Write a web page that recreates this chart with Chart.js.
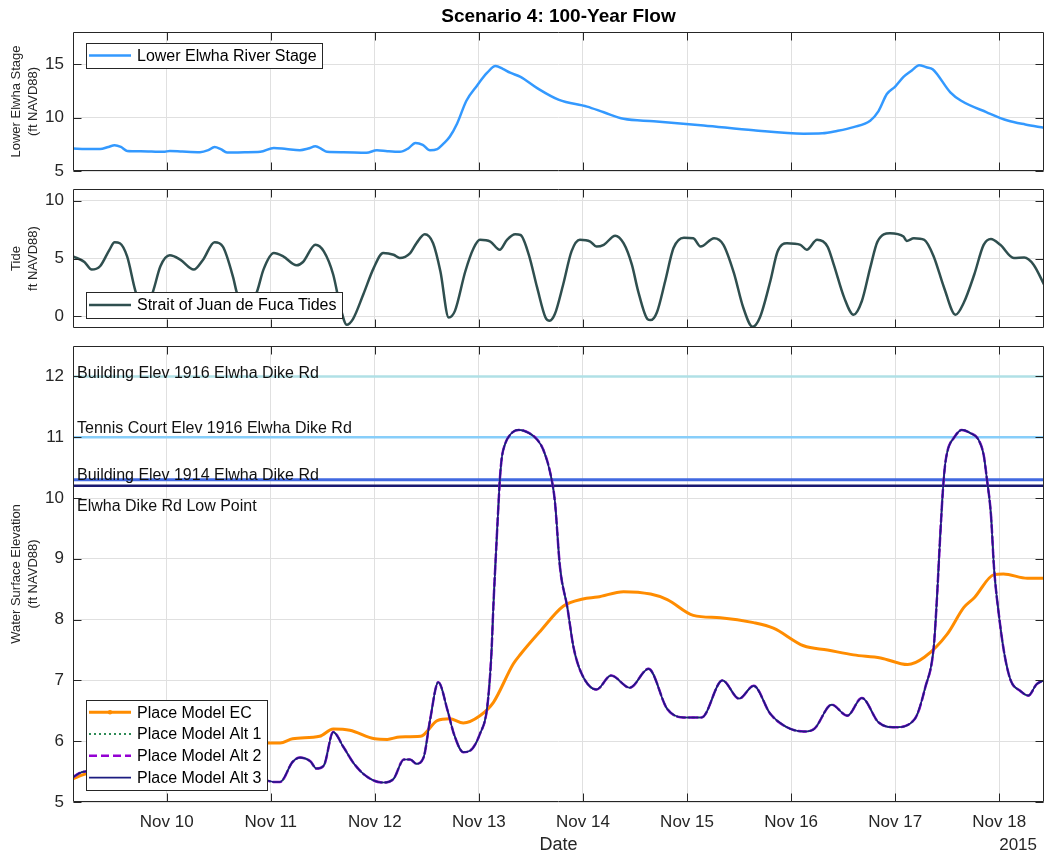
<!DOCTYPE html>
<html><head><meta charset="utf-8">
<script src="https://cdn.jsdelivr.net/npm/chart.js@4.4.1/dist/chart.umd.min.js"></script>
<style>
html,body{margin:0;padding:0;background:#fff;}
#wrap{position:relative;width:1044px;height:856px;overflow:hidden;background:#fff;}
canvas{position:absolute;left:0;}
</style></head><body>
<div id="wrap">
<canvas id="cA" width="1044" height="184" style="top:0px"></canvas>
<canvas id="cB" width="1044" height="148" style="top:184px"></canvas>
<canvas id="cC" width="1044" height="524" style="top:332px"></canvas>
</div>
<script>
// ---------- axes / labels ----------
const chartTitle = 'Scenario 4: 100-Year Flow';
const xLimits = [9.10, 18.43];               // day of November 2015
const dayTicks = [10, 11, 12, 13, 14, 15, 16, 17, 18];
const dayLabels = ['Nov 10', 'Nov 11', 'Nov 12', 'Nov 13', 'Nov 14', 'Nov 15', 'Nov 16', 'Nov 17', 'Nov 18'];
const yearText = '2015';
const xAxisTitle = 'Date';

const stageLimits = [5, 18];
const stageTicks = [5, 10, 15];
const stageAxisTitle = ['Lower Elwha Stage', '(ft NAVD88)'];

const tideLimits = [-1, 11];
const tideTicks = [0, 5, 10];
const tideAxisTitle = ['Tide', 'ft NAVD88)'];

const wseLimits = [5, 12.5];
const wseTicks = [5, 6, 7, 8, 9, 10, 11, 12];
const wseAxisTitle = ['Water Surface Elevation', '(ft NAVD88)'];

// ---------- series ----------
const stageDays = [9.10, 9.22, 9.36, 9.44, 9.50, 9.56, 9.62, 9.75, 9.97, 10.03, 10.15, 10.32, 10.40, 10.46, 10.52, 10.58, 10.75, 10.90, 11.03, 11.15, 11.28, 11.36, 11.43, 11.49, 11.54, 11.70, 11.92, 12.02, 12.12, 12.24, 12.32, 12.39, 12.46, 12.53, 12.60, 12.66, 12.72, 12.79, 12.88, 12.98, 13.08, 13.16, 13.23, 13.30, 13.40, 13.56, 13.77, 14.04, 14.20, 14.39, 14.68, 15.16, 15.64, 16.12, 16.30, 16.44, 16.60, 16.76, 16.84, 16.92, 17.00, 17.08, 17.16, 17.23, 17.30, 17.36, 17.53, 17.63, 17.88, 18.08, 18.25, 18.43];
const stageVals = [7.10, 7.05, 7.05, 7.25, 7.41, 7.25, 6.88, 6.85, 6.79, 6.88, 6.82, 6.76, 6.95, 7.25, 7.05, 6.73, 6.75, 6.79, 7.16, 7.05, 6.94, 7.10, 7.31, 7.05, 6.79, 6.75, 6.70, 6.94, 6.85, 6.79, 7.10, 7.62, 7.45, 6.94, 7.05, 7.56, 8.20, 9.42, 11.57, 12.96, 14.19, 14.81, 14.55, 14.19, 13.80, 12.75, 11.65, 11.02, 10.49, 9.88, 9.66, 9.26, 8.80, 8.49, 8.52, 8.74, 9.10, 9.70, 10.60, 12.20, 12.90, 13.80, 14.40, 14.90, 14.70, 14.52, 12.36, 11.59, 10.49, 9.72, 9.35, 9.05];

const tideDays = [9.10, 9.21, 9.28, 9.36, 9.45, 9.50, 9.55, 9.62, 9.70, 9.78, 9.87, 9.94, 10.03, 10.13, 10.26, 10.35, 10.46, 10.54, 10.64, 10.67, 10.76, 10.87, 10.93, 11.03, 11.12, 11.25, 11.31, 11.43, 11.51, 11.60, 11.67, 11.73, 11.79, 11.89, 11.99, 12.08, 12.18, 12.24, 12.34, 12.40, 12.48, 12.56, 12.63, 12.71, 12.77, 12.87, 12.95, 13.01, 13.11, 13.20, 13.27, 13.35, 13.40, 13.48, 13.56, 13.64, 13.68, 13.73, 13.81, 13.89, 13.97, 14.07, 14.13, 14.20, 14.31, 14.39, 14.47, 14.53, 14.62, 14.65, 14.71, 14.79, 14.87, 14.97, 15.06, 15.13, 15.26, 15.35, 15.45, 15.54, 15.63, 15.70, 15.80, 15.87, 15.96, 16.09, 16.15, 16.25, 16.35, 16.41, 16.51, 16.60, 16.68, 16.76, 16.83, 16.95, 17.08, 17.11, 17.18, 17.28, 17.37, 17.47, 17.58, 17.66, 17.76, 17.85, 17.92, 18.01, 18.14, 18.24, 18.33, 18.43];
const tideVals = [5.18, 4.70, 4.04, 4.33, 5.75, 6.41, 6.32, 5.18, 2.19, 0.30, 2.19, 4.33, 5.27, 4.90, 4.04, 4.90, 6.41, 6.03, 3.33, 2.19, 0.20, 2.19, 4.04, 5.47, 5.18, 4.41, 4.70, 6.18, 5.61, 3.62, 0.77, -0.72, -0.23, 1.91, 4.19, 5.47, 5.32, 5.04, 5.47, 6.32, 7.09, 6.32, 3.90, -0.09, 0.48, 3.90, 5.90, 6.61, 6.46, 5.75, 6.61, 7.09, 7.03, 5.32, 2.48, -0.09, -0.37, 0.20, 2.76, 5.61, 6.61, 6.46, 6.03, 6.18, 6.97, 6.32, 4.47, 2.19, -0.23, -0.32, 0.34, 3.04, 5.90, 6.80, 6.75, 6.03, 6.75, 6.18, 3.76, 0.77, -0.89, -0.09, 3.04, 5.61, 6.32, 6.18, 5.75, 6.61, 6.03, 4.47, 1.62, 0.14, 1.33, 4.19, 6.46, 7.18, 6.89, 6.52, 6.75, 6.61, 5.18, 2.48, 0.14, 1.20, 3.62, 6.18, 6.69, 6.18, 5.04, 5.09, 4.47, 2.76];

const ecDays = [9.10, 9.20, 9.50, 10.00, 10.50, 10.95, 11.09, 11.21, 11.47, 11.60, 11.76, 12.00, 12.12, 12.24, 12.44, 12.60, 12.72, 12.85, 13.01, 13.14, 13.33, 13.40, 13.59, 13.81, 14.00, 14.14, 14.39, 14.65, 14.81, 15.06, 15.32, 15.64, 15.83, 16.12, 16.35, 16.60, 16.86, 17.12, 17.28, 17.50, 17.66, 17.76, 17.95, 18.04, 18.27, 18.43];
const ecVals = [5.38, 5.45, 5.60, 5.75, 5.90, 5.97, 5.97, 6.04, 6.08, 6.20, 6.18, 6.04, 6.03, 6.07, 6.08, 6.34, 6.37, 6.30, 6.42, 6.64, 7.27, 7.43, 7.81, 8.22, 8.34, 8.37, 8.46, 8.42, 8.33, 8.07, 8.03, 7.95, 7.86, 7.57, 7.50, 7.42, 7.37, 7.26, 7.38, 7.76, 8.20, 8.36, 8.74, 8.75, 8.68, 8.68];

// Alt 1, Alt 2 and Alt 3 overlap completely in the figure
const altDays = [9.10, 9.17, 9.21, 9.35, 9.60, 9.85, 10.10, 10.35, 10.60, 10.85, 10.95, 11.03, 11.09, 11.21, 11.28, 11.38, 11.44, 11.51, 11.60, 11.70, 11.80, 11.93, 12.08, 12.18, 12.28, 12.34, 12.40, 12.47, 12.53, 12.61, 12.70, 12.76, 12.85, 12.92, 13.01, 13.08, 13.12, 13.14, 13.17, 13.19, 13.20, 13.22, 13.25, 13.30, 13.38, 13.48, 13.56, 13.62, 13.69, 13.73, 13.78, 13.85, 13.91, 13.99, 14.13, 14.27, 14.45, 14.63, 14.81, 14.97, 15.14, 15.34, 15.50, 15.64, 15.80, 15.96, 16.12, 16.22, 16.39, 16.54, 16.68, 16.84, 17.00, 17.19, 17.29, 17.37, 17.40, 17.43, 17.46, 17.48, 17.51, 17.56, 17.64, 17.72, 17.80, 17.85, 17.88, 17.92, 17.95, 18.00, 18.05, 18.11, 18.20, 18.28, 18.36, 18.43];
const altVals = [5.41, 5.48, 5.50, 5.55, 5.85, 5.45, 5.60, 5.95, 5.60, 5.40, 5.36, 5.33, 5.33, 5.66, 5.73, 5.67, 5.55, 5.60, 6.15, 5.90, 5.63, 5.41, 5.32, 5.38, 5.70, 5.70, 5.63, 5.74, 6.34, 6.97, 6.50, 6.12, 5.82, 5.85, 6.12, 6.56, 7.43, 8.25, 9.29, 9.95, 10.27, 10.66, 10.88, 11.04, 11.12, 11.07, 10.96, 10.79, 10.38, 9.95, 8.85, 8.20, 7.54, 7.10, 6.85, 7.08, 6.88, 7.19, 6.53, 6.39, 6.39, 7.00, 6.70, 6.91, 6.45, 6.23, 6.16, 6.20, 6.60, 6.42, 6.71, 6.31, 6.23, 6.37, 6.89, 7.54, 8.31, 9.29, 10.16, 10.55, 10.82, 10.98, 11.12, 11.07, 10.96, 10.71, 10.33, 9.73, 8.85, 8.03, 7.43, 7.00, 6.83, 6.75, 6.94, 7.00];

const refLevels = [12.0, 11.0, 10.3, 10.2];
const refNames = ['Building Elev 1916 Elwha Dike Rd', 'Tennis Court Elev 1916 Elwha Dike Rd', 'Building Elev 1914 Elwha Dike Rd', 'Elwha Dike Rd Low Point'];

// ---------- styling ----------
const FONT = "'Liberation Sans', Arial, Helvetica, sans-serif";
const INK = '#262626';
const GRID = '#e0e0e0';
const TICK_LEN = 8;
const refColors = ['#B0E0E6', '#87CEFA', '#4169E1', '#191970'];
const refWidths = [2.5, 2.5, 3, 2.5];
const refLabelDy = [1.5, -4, 0, 25];   // baseline offset of each label from its line (px)

Chart.defaults.font.family = FONT;
Chart.defaults.color = INK;

const pts = (xs, ys) => xs.map((x, i) => ({x: x, y: ys[i]}));
const lineStyle = (o) => Object.assign({
  pointRadius: 0, pointHoverRadius: 0, fill: false, cubicInterpolationMode: 'monotone',
  borderJoinStyle: 'round', borderCapStyle: 'round'
}, o);

// ---------- plugins ----------
const axesBox = {
  id: 'axesBox',
  afterDraw(chart) {
    const {ctx, chartArea: ca, scales: {x, y}} = chart;
    const L = Math.round(ca.left) + 0.5, R = Math.round(ca.right) - 0.5;
    const T = Math.round(ca.top) + 0.5, B = Math.round(ca.bottom) - 0.5;
    ctx.save();
    ctx.strokeStyle = INK; ctx.lineWidth = 1;
    ctx.beginPath();
    x.ticks.forEach(t => {
      const px = Math.round(x.getPixelForValue(t.value)) + 0.5;
      ctx.moveTo(px, T); ctx.lineTo(px, T + TICK_LEN);
      ctx.moveTo(px, B); ctx.lineTo(px, B - TICK_LEN);
    });
    y.ticks.forEach(t => {
      const py = Math.round(y.getPixelForValue(t.value)) + 0.5;
      ctx.moveTo(L, py); ctx.lineTo(L + TICK_LEN, py);
      ctx.moveTo(R, py); ctx.lineTo(R - TICK_LEN, py);
    });
    ctx.rect(L, T, R - L, B - T);
    ctx.stroke();
    ctx.restore();
  }
};

const refLabels = {
  id: 'refLabels',
  afterDraw(chart) {
    const {ctx, chartArea: ca, scales: {y}} = chart;
    ctx.save();
    ctx.font = '16px ' + FONT; ctx.fillStyle = '#111';
    ctx.textAlign = 'left'; ctx.textBaseline = 'alphabetic';
    chart.data.datasets.filter(d => d.isRef).forEach(d => {
      const py = y.getPixelForValue(d.data[0].y);
      ctx.fillText(d.label, ca.left + 4, py + d.refLabelDy);
    });
    ctx.restore();
  }
};

const yearLabel = {
  id: 'yearLabel',
  afterDraw(chart) {
    const {ctx, chartArea: ca, scales: {x}} = chart;
    ctx.save();
    ctx.font = '17px ' + FONT; ctx.fillStyle = INK;
    ctx.textAlign = 'right'; ctx.textBaseline = 'middle';
    ctx.fillText(yearText, ca.right - 7, x.bottom - 11);
    ctx.restore();
  }
};

const boxLegend = {
  id: 'boxLegend',
  afterDraw(chart, args, opts) {
    if (!opts || !opts.show) return;
    const {ctx, chartArea: ca} = chart;
    const items = chart.data.datasets.filter(d => d.inLegend);
    ctx.save();
    ctx.font = '16px ' + FONT;
    const tw = Math.max(...items.map(d => ctx.measureText(d.label).width));
    const w = Math.round(51 + tw + 5);
    const h = Math.round(items.length * opts.rowH + 2 * opts.padV);
    const x0 = Math.round(ca.left + opts.dx);
    const y0 = Math.round(opts.corner === 'sw' ? ca.bottom - opts.dy - h : ca.top + opts.dy);
    ctx.fillStyle = '#fff';
    ctx.fillRect(x0, y0, w, h);
    ctx.strokeStyle = INK; ctx.lineWidth = 1;
    ctx.strokeRect(x0 + 0.5, y0 + 0.5, w, h);
    items.forEach((d, i) => {
      const cy = y0 + opts.padV + opts.rowH * (i + 0.5);
      ctx.beginPath();
      ctx.setLineDash(d.borderDash || []);
      ctx.strokeStyle = d.borderColor; ctx.lineWidth = d.borderWidth;
      ctx.lineCap = 'butt';
      ctx.moveTo(x0 + 3, cy); ctx.lineTo(x0 + 45, cy);
      ctx.stroke();
      ctx.setLineDash([]);
      if (d.legendMarker) {
        ctx.beginPath(); ctx.fillStyle = d.borderColor;
        ctx.arc(x0 + 24, cy, 2.2, 0, Math.PI * 2); ctx.fill();
      }
      ctx.fillStyle = '#000'; ctx.textAlign = 'left'; ctx.textBaseline = 'middle';
      ctx.fillText(d.label, x0 + 51, cy + 1);
    });
    ctx.restore();
  }
};

function panelOptions(c) {
  return {
    responsive: false, animation: false, events: [],
    layout: {padding: {left: 0, right: 0, top: c.padTop, bottom: c.padBottom}},
    plugins: {
      legend: {display: false}, tooltip: {enabled: false},
      title: c.title || {display: false},
      boxLegend: c.legend || {show: false}
    },
    scales: {
      x: {
        type: 'linear', min: xLimits[0], max: xLimits[1],
        afterBuildTicks: s => { s.ticks = dayTicks.map(v => ({value: v})); },
        afterFit: s => { s.height = c.xHeight; s.paddingLeft = 0; s.paddingRight = 0; },
        ticks: {
          display: c.showX, autoSkip: false, maxRotation: 0, minRotation: 0, padding: 10,
          color: INK, font: {size: 17, lineHeight: 1.2},
          callback: v => dayLabels[dayTicks.indexOf(v)]
        },
        grid: {color: GRID, lineWidth: 1, drawTicks: false},
        border: {display: false},
        title: c.showX ? {display: true, text: xAxisTitle, color: INK, font: {size: 18, lineHeight: 1.2}, padding: {top: 0, bottom: 0}} : {display: false}
      },
      y: {
        type: 'linear', min: c.yLim[0], max: c.yLim[1],
        afterBuildTicks: s => { s.ticks = c.yTicks.map(v => ({value: v})); },
        afterFit: s => { s.width = 73; s.paddingTop = 0; s.paddingBottom = 0; },
        ticks: {padding: 9, color: INK, font: {size: 17, lineHeight: 1.2}, callback: v => String(v)},
        grid: {color: GRID, lineWidth: 1, drawTicks: false},
        border: {display: false},
        title: {display: true, text: c.yTitle, color: INK, font: {size: 13, lineHeight: 1.3}, padding: {top: 8, bottom: 0}}
      }
    }
  };
}

// ---------- panel 1: river stage ----------
new Chart(document.getElementById('cA'), {
  type: 'line',
  data: {datasets: [lineStyle({label: 'Lower Elwha River Stage', data: pts(stageDays, stageVals), borderColor: '#3399FF', borderWidth: 2.5, inLegend: true})]},
  options: panelOptions({
    padTop: 0, padBottom: 13, xHeight: 0, showX: false,
    yLim: stageLimits, yTicks: stageTicks, yTitle: stageAxisTitle,
    title: {display: true, text: chartTitle, fullSize: false, color: '#000', font: {size: 19, weight: 'bold', lineHeight: 1.2}, padding: {top: 5, bottom: 4.2}},
    legend: {show: true, corner: 'nw', dx: 13, dy: 11, rowH: 21, padV: 2}
  }),
  plugins: [axesBox, boxLegend]
});

// ---------- panel 2: tides ----------
new Chart(document.getElementById('cB'), {
  type: 'line',
  data: {datasets: [lineStyle({label: 'Strait of Juan de Fuca Tides', data: pts(tideDays, tideVals), borderColor: '#2F4F4F', borderWidth: 2.5, inLegend: true})]},
  options: panelOptions({
    padTop: 5, padBottom: 4, xHeight: 0, showX: false,
    yLim: tideLimits, yTicks: tideTicks, yTitle: tideAxisTitle,
    legend: {show: true, corner: 'sw', dx: 13, dy: 10, rowH: 22, padV: 2}
  }),
  plugins: [axesBox, boxLegend]
});

// ---------- panel 3: water surface elevation ----------
const refSets = refLevels.map((lv, i) => lineStyle({
  label: refNames[i], data: [{x: xLimits[0], y: lv}, {x: xLimits[1], y: lv}],
  borderColor: refColors[i], borderWidth: refWidths[i], borderCapStyle: 'butt',
  order: 10 + i, isRef: true, refLabelDy: refLabelDy[i]
}));
new Chart(document.getElementById('cC'), {
  type: 'line',
  data: {datasets: [
    lineStyle({label: 'Place Model EC', data: pts(ecDays, ecVals), borderColor: '#FF8C00', borderWidth: 3, order: 4, inLegend: true, legendMarker: true}),
    lineStyle({label: 'Place Model Alt 1', data: pts(altDays, altVals), borderColor: '#2E8B57', borderWidth: 2, borderDash: [2, 3], order: 3, inLegend: true}),
    lineStyle({label: 'Place Model Alt 2', data: pts(altDays, altVals), borderColor: '#9400D3', borderWidth: 2.5, borderDash: [8, 4], order: 2, inLegend: true}),
    lineStyle({label: 'Place Model Alt 3', data: pts(altDays, altVals), borderColor: '#1C1C80', borderWidth: 1.6, order: 1, inLegend: true})
  ].concat(refSets)},
  options: panelOptions({
    padTop: 14, padBottom: 0, xHeight: 54, showX: true,
    yLim: wseLimits, yTicks: wseTicks, yTitle: wseAxisTitle,
    legend: {show: true, corner: 'sw', dx: 13, dy: 12, rowH: 21.8, padV: 1.3}
  }),
  plugins: [axesBox, refLabels, yearLabel, boxLegend]
});
</script>
</body></html>
